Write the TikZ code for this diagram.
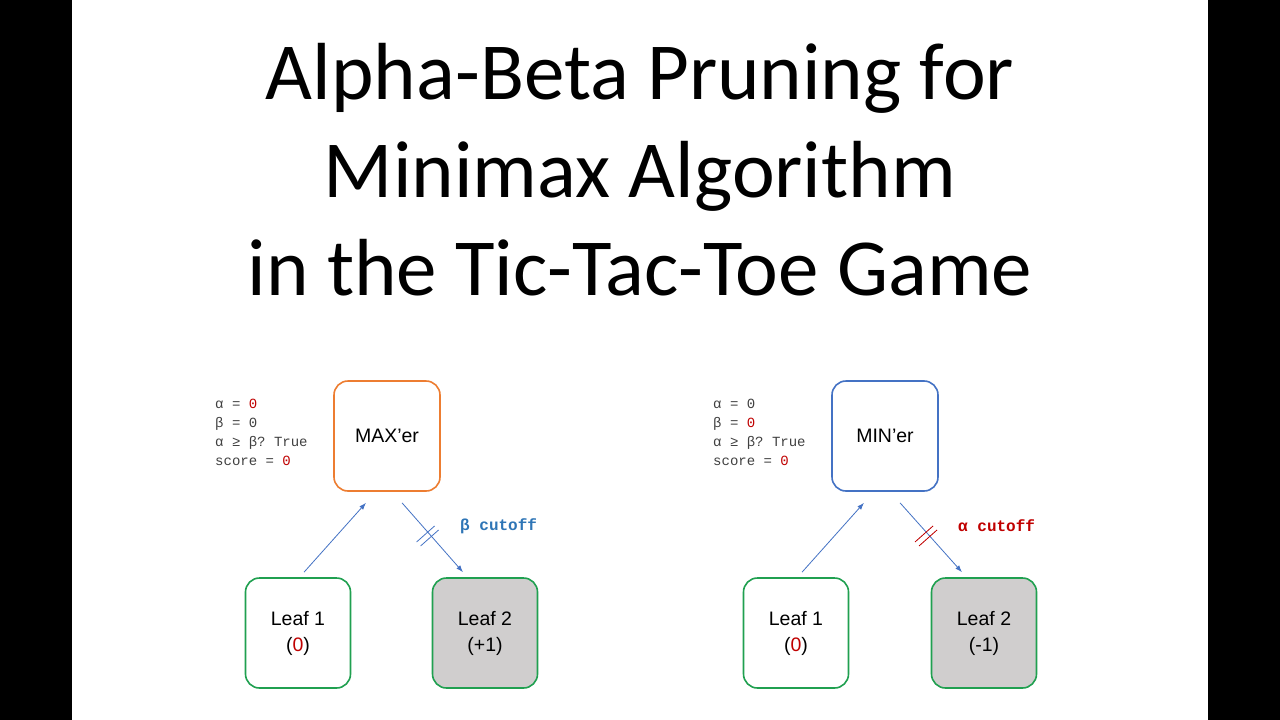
\documentclass[tikz,border=0pt]{standalone}
\usepackage{fontspec}
\setmainfont{Carlito}
\setsansfont{Liberation Sans}
\setmonofont{Liberation Mono}
\usetikzlibrary{positioning, arrows.meta}
\definecolor{maxorange}{HTML}{ED7D31}
\definecolor{minblue}{HTML}{4472C4}
\definecolor{leafgreen}{HTML}{20A050}
\definecolor{prunegray}{HTML}{D0CECE}
\definecolor{cutblue}{HTML}{2E75B6}
\definecolor{cutred}{HTML}{C00000}

\begin{document}
\begin{tikzpicture}[
    x=1pt, y=-1pt,
    % Styles
    player/.style={draw, line width=1.6pt, rounded corners=14pt, minimum width=106pt, minimum height=110pt, font=\sffamily\fontsize{19.5}{22}\selectfont, align=center},
    leaf/.style={draw=leafgreen, line width=1.6pt, rounded corners=14pt, minimum width=105pt, minimum height=110pt, font=\sffamily\fontsize{19.5}{26}\selectfont, align=center},
    arrow/.style={-{Latex[length=7pt,width=5pt]}, minblue, line width=0.8pt},
    cut/.style={line width=0.8pt},
    note/.style={font=\ttfamily\fontsize{14}{19}\selectfont, text=black!75, align=left, anchor=north west, inner sep=0pt},
    cutlabel/.style={font=\ttfamily\bfseries\fontsize{16}{18}\selectfont, anchor=west, inner sep=0pt},
]
\useasboundingbox (0,0) rectangle (1280,720);
\fill[white] (0,0) rectangle (1280,720);
\fill[black] (0,0) rectangle (72,720);
\fill[black] (1208,0) rectangle (1280,720);

% Title
\node[font=\fontsize{81}{98}\selectfont, align=center] (title) at (640,170) {Alpha-Beta Pruning for\\Minimax Algorithm\\in the Tic-Tac-Toe Game};

% Left tree
\node[player, draw=maxorange] (maxer) at (387,436) {MAX’er};
\node[leaf] (leafA) at (298,633) {Leaf 1\\(\textcolor{cutred}{0})};
\node[leaf, fill=prunegray] (leafB) at (485,633) {Leaf 2\\(+1)};
\node[note] (noteA) at (215,399) {α = \textcolor{cutred}{0}\\β = 0\\α ≥ β? True\\score = \textcolor{cutred}{0}};
\draw[arrow] ([xshift=6pt, yshift=5pt]leafA.north) -- ([xshift=-21pt, yshift=-11pt]maxer.south);
\draw[arrow] ([xshift=15pt, yshift=-11pt]maxer.south) -- coordinate[pos=.42] (cutA) ([xshift=-22pt, yshift=5pt]leafB.north);
\draw[cut, minblue] ([shift={(-11,10)}]cutA) -- ([shift={(7,-6)}]cutA);
\draw[cut, minblue] ([shift={(-7,14)}]cutA) -- ([shift={(11,-2)}]cutA);
\node[cutlabel, cutblue] (cutlabA) at (460,526) {β cutoff};

% Right tree
\node[player, draw=minblue] (miner) at (885,436) {MIN’er};
\node[leaf] (leafC) at (796,633) {Leaf 1\\(\textcolor{cutred}{0})};
\node[leaf, fill=prunegray] (leafD) at (984,633) {Leaf 2\\(-1)};
\node[note] (noteB) at (713,399) {α = 0\\β = \textcolor{cutred}{0}\\α ≥ β? True\\score = \textcolor{cutred}{0}};
\draw[arrow] ([xshift=6pt, yshift=5pt]leafC.north) -- ([xshift=-21pt, yshift=-11pt]miner.south);
\draw[arrow] ([xshift=15pt, yshift=-11pt]miner.south) -- coordinate[pos=.42] (cutB) ([xshift=-22pt, yshift=5pt]leafD.north);
\draw[cut, cutred] ([shift={(-11,10)}]cutB) -- ([shift={(7,-6)}]cutB);
\draw[cut, cutred] ([shift={(-7,14)}]cutB) -- ([shift={(11,-2)}]cutB);
\node[cutlabel, cutred] (cutlabB) at (958,526) {α cutoff};

\end{tikzpicture}
\end{document}
